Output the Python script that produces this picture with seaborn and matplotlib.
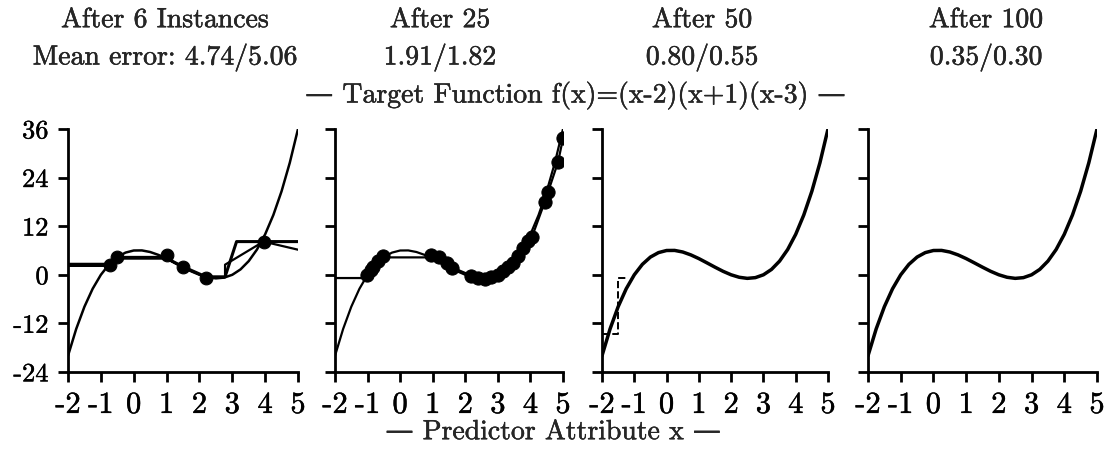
import numpy as np
import pandas as pd
import seaborn as sns
import matplotlib.pyplot as plt
import matplotlib.patheffects as pe

# target function f(x)=(x-2)(x+1)(x-3)
tx = [-2, -1.75, -1.5, -1.25, -1, -0.75, -0.5, -0.25, 0, 0.25, 0.5, 0.75, 1, 1.25,
      1.5, 1.75, 2, 2.25, 2.5, 2.75, 3, 3.25, 3.5, 3.75, 4, 4.25, 4.5, 4.75, 5]
ty = [-20.0, -13.36, -7.88, -3.45, 0.0, 2.58, 4.38, 5.48, 6.0, 6.02, 5.63, 4.92, 4.0, 2.95,
      1.88, 0.86, 0.0, -0.61, -0.88, -0.70, 0.0, 1.33, 3.38, 6.23, 10.0, 14.77, 20.63, 27.67, 36.0]

n_inst = [6, 25, 50, 100]
err_a = [4.74, 1.91, 0.80, 0.35]
err_b = [5.06, 1.82, 0.55, 0.30]

# after 6 instances
p1_dot_x = [-0.73, -0.5, 1.0, 1.5, 2.2, 3.95]
p1_dot_y = [2.3, 4.5, 4.8, 2.0, -0.7, 8.2]
p1_a_x = [-2, -0.73, -0.5, 0.95, 1.5, 2.2, 2.78, 3.13, 5]
p1_a_y = [2.6, 2.6, 4.3, 4.3, 2.0, -0.5, -0.5, 8.2, 8.2]
p1_b_x = [-2, -0.73, -0.5, 1.0, 1.5, 2.2, 2.78, 2.78, 3.95, 5]
p1_b_y = [2.2, 2.2, 4.0, 4.0, 1.8, -0.6, -0.6, 2.5, 8.2, 6.2]

# after 25
p2_dot_x = [-1.03, -0.9, -0.82, -0.67, -0.52, 0.96, 1.2, 1.45, 1.6, 2.19, 2.4, 2.6, 2.8,
            3.0, 3.15, 3.3, 3.45, 3.62, 3.78, 3.92, 4.05, 4.44, 4.54, 4.85, 5.0]
p2_dot_y = [0.0, 1.2, 2.0, 3.5, 4.6, 5.0, 4.3, 2.8, 1.8, -0.2, -0.8, -1.1, -0.6,
            0.0, 0.9, 2.0, 3.0, 4.7, 6.5, 8.3, 9.4, 18.0, 20.4, 27.9, 33.7]
p2_m_x = [-2, -1.1, -1.03, -0.52, -0.35, 0.85, 0.96, 1.6, 2.19, 2.6, 3.0, 3.62, 4.05, 4.44, 4.85, 5.0]
p2_m_y = [-0.8, -0.8, 0.0, 4.6, 4.3, 4.3, 5.0, 1.8, -0.2, -1.1, 0.0, 4.7, 9.4, 18.0, 27.9, 33.7]

# after 50: dashed step at the left end
p3_d_x = [-2, -1.49, -1.49, -1.18]
p3_d_y = [-14.6, -14.6, -0.8, -0.8]

xticks = [-2, -1, 0, 1, 2, 3, 4, 5]
xlabels = ['-2', '-1', '0', '1', '2', '3', '4', '5']
yticks = [-24, -12, 0, 12, 24, 36]
ylabels = ['-24', '-12', '0', '12', '24', '36']

sns.set_style('ticks')
plt.rcParams['font.family'] = ['cmr10', 'DejaVu Serif']
plt.rcParams['axes.formatter.use_mathtext'] = True

ink = [pe.withStroke(linewidth=0.3, foreground='black')]

fig = plt.figure(figsize=(11.1, 4.55), dpi=100)
lefts = [68, 335, 602, 868]
widths = [230, 228, 226, 229]
axes = [fig.add_axes([l / 1110, 83 / 455, w / 1110, 243 / 455]) for l, w in zip(lefts, widths)]

def line(ax, x, y, lw, ls='-'):
    sns.lineplot(x=x, y=y, ax=ax, color='black', lw=lw, ls=ls, sort=False, estimator=None)

line(axes[0], tx, ty, 1.8)
line(axes[0], p1_a_x, p1_a_y, 2.2)
line(axes[0], p1_b_x, p1_b_y, 1.6)
sns.scatterplot(x=p1_dot_x, y=p1_dot_y, ax=axes[0], color='black', s=85, edgecolor='black', zorder=5)

line(axes[1], tx, ty, 1.6)
line(axes[1], p2_m_x, p2_m_y, 1.6)
sns.scatterplot(x=p2_dot_x, y=p2_dot_y, ax=axes[1], color='black', s=90, edgecolor='black', zorder=5)

line(axes[2], tx, ty, 2.5)
line(axes[2], p3_d_x, p3_d_y, 1.4, '--')

line(axes[3], tx, ty, 2.5)

for i, ax in enumerate(axes):
    ax.set_xlim(-2, 5)
    ax.set_ylim(-24, 36)
    ax.set_xticks(xticks)
    ax.set_xticklabels(xlabels, fontsize=22, path_effects=ink)
    ax.set_yticks(yticks)
    ax.set_yticklabels(ylabels if i == 0 else [], fontsize=19, path_effects=ink)
    ax.tick_params(length=7, width=2, color='black', labelcolor='black')
    ax.tick_params(axis='x', pad=7)
    ax.tick_params(axis='y', pad=7)
    sns.despine(ax=ax)
    for s in ['left', 'bottom']:
        ax.spines[s].set_linewidth(2)
        ax.spines[s].set_color('black')

centers = [165, 440, 702, 986]
for i in range(4):
    t1 = f'After {n_inst[i]} Instances' if i == 0 else f'After {n_inst[i]}'
    t2 = f'{err_a[i]:.2f}/{err_b[i]:.2f}'
    if i == 0:
        t2 = 'Mean error: ' + t2
    fig.text(centers[i] / 1110, 1 - 20 / 455, t1, ha='center', va='center', fontsize=20, path_effects=ink)
    fig.text(centers[i] / 1110, 1 - 57 / 455, t2, ha='center', va='center', fontsize=20, path_effects=ink)

fig.text(576 / 1110, 1 - 95 / 455, '\u2014 Target Function f(x)=(x-2)(x+1)(x-3) \u2014',
         ha='center', va='center', fontsize=20, path_effects=ink)
fig.text(553 / 1110, 1 - 432 / 455, '\u2014 Predictor Attribute x \u2014',
         ha='center', va='center', fontsize=20, path_effects=ink)

fig.savefig('out.png', dpi=100)
